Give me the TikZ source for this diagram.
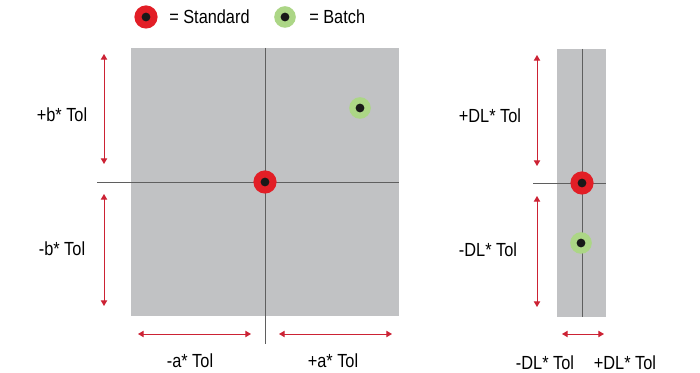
\documentclass[tikz,border=0pt]{standalone}
\usepackage{fontspec}
\setmainfont{Liberation Sans}[FakeStretch=0.86]
\usetikzlibrary{arrows.meta}
\definecolor{fieldgray}{RGB}{193,194,196}
\definecolor{stdred}{RGB}{226,30,38}
\definecolor{batchgreen}{RGB}{172,214,134}
\definecolor{tolred}{RGB}{204,34,52}
\definecolor{axisgray}{RGB}{95,95,95}
\tikzset{
	tolarrow/.style={tolred,line width=.6pt,{Triangle[length=4pt,width=4.5pt]}-{Triangle[length=4pt,width=4.5pt]}},
	axisline/.style={axisgray,line width=.6pt},
	toltext/.style={font=\fontsize{13.5}{15}\selectfont,inner sep=0pt},
	stddot/.style={circle,fill=stdred,minimum size=.58cm,inner sep=0pt},
	batchdot/.style={circle,fill=batchgreen,minimum size=.54cm,inner sep=0pt},
	core/.style={circle,fill=black!90,minimum size=.22cm,inner sep=0pt}
}
\begin{document}
\begin{tikzpicture}[x=0.025cm,y=-0.025cm]
			\useasboundingbox (0,0) rectangle (700,373);
			% fields
			\fill[fieldgray] (131,48) rectangle (399,316);
			\fill[fieldgray] (557,49) rectangle (606,317);
			% axes
			\coordinate (ab-l) at (97,182);
			\coordinate (ab-r) at (399,182);
			\coordinate (ab-t) at (265,48);
			\coordinate (ab-b) at (265,344);
			\coordinate (dl-l) at (533,183);
			\coordinate (dl-r) at (606,183);
			\coordinate (dl-t) at (582,49);
			\coordinate (dl-b) at (582,317);
			\draw[axisline] (ab-l) -- (ab-r);
			\draw[axisline] (ab-t) -- (ab-b);
			\draw[axisline] (dl-l) -- (dl-r);
			\draw[axisline] (dl-t) -- (dl-b);
			% tolerance arrows
			\coordinate (1) at (104,54);
			\coordinate (2) at (104,164);
			\coordinate (3) at (104,194);
			\coordinate (4) at (104,306);
			\coordinate (5) at (138,334);
			\coordinate (6) at (251,334);
			\coordinate (7) at (279,334);
			\coordinate (8) at (392,334);
			\coordinate (9) at (537,55);
			\coordinate (10) at (537,166);
			\coordinate (11) at (537,196);
			\coordinate (12) at (537,307);
			\coordinate (13) at (562,334);
			\coordinate (14) at (604,334);
			\foreach \a/\b in {1/2,3/4,5/6,7/8,9/10,11/12,13/14}{
				\draw[tolarrow] (\a) -- (\b);
			}
			% labels
			\node[toltext] (bplus) at (62,115) {+b* Tol};
			\node[toltext] (bminus) at (62,249) {-b* Tol};
			\node[toltext] (aminus) at (190,361) {-a* Tol};
			\node[toltext] (aplus) at (333,361) {+a* Tol};
			\node[toltext] (dlplus) at (490,116) {+DL* Tol};
			\node[toltext] (dlminus) at (488,250) {-DL* Tol};
			\node[toltext] (dlxminus) at (545,363) {-DL* Tol};
			\node[toltext] (dlxplus) at (625,363) {+DL* Tol};
			% dots
			\foreach \n/\p in {legstd/{(146,17)},std/{(265,182)},dlstd/{(582,183)}}{
				\node[stddot] (\n) at \p {};
				\node[core] at (\n) {};
			}
			\foreach \n/\p in {legbatch/{(285,17)},batch/{(360,108)},dlbatch/{(581,243)}}{
				\node[batchdot] (\n) at \p {};
				\node[core] at (\n) {};
			}
			% legend
			\node[toltext,anchor=west] (legstdtext) at (169,17) {= Standard};
			\node[toltext,anchor=west] (legbatchtext) at (309,17) {= Batch};
		\end{tikzpicture}
\end{document}
